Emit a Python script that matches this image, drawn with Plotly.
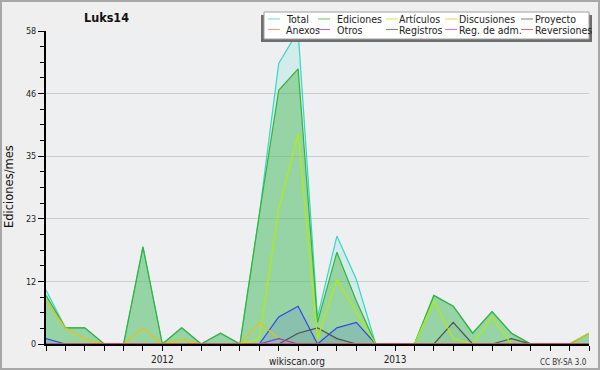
import plotly.graph_objects as go

# ---------------- data ----------------
months = ["2011-07", "2011-08", "2011-09", "2011-10", "2011-11", "2011-12",
          "2012-01", "2012-02", "2012-03", "2012-04", "2012-05", "2012-06",
          "2012-07", "2012-08", "2012-09", "2012-10", "2012-11", "2012-12",
          "2013-01", "2013-02", "2013-03", "2013-04", "2013-05", "2013-06",
          "2013-07", "2013-08", "2013-09", "2013-10", "2013-11"]
year_labels = {"2012-01": "2012", "2013-01": "2013"}

total       = [10, 3, 3, 0, 0, 18, 0, 3, 0, 2, 0, 24, 52, 58, 5, 20, 12, 0, 0, 0, 9, 7, 2, 6, 2, 0, 0, 0, 2]
ediciones   = [9, 3, 3, 0, 0, 18, 0, 3, 0, 2, 0, 24, 47, 51, 4, 17, 8, 0, 0, 0, 9, 7, 2, 6, 2, 0, 0, 0, 2]
articulos   = [0, 0, 0, 0, 0, 0, 0, 0, 0, 0, 0, 1, 25, 39, 1, 12, 6, 0, 0, 0, 8, 1, 0, 5, 0, 0, 0, 0, 0]
discusiones = [8, 3, 1, 0, 0, 3, 0, 1, 0, 0, 0, 4, 1, 0, 0, 0, 0, 0, 0, 0, 0, 0, 0, 0, 0, 0, 0, 0, 2]
proyecto    = [0, 0, 0, 0, 0, 0, 0, 0, 0, 0, 0, 0, 0, 2, 3, 1, 0, 0, 0, 0, 0, 4, 0, 0, 1, 0, 0, 0, 0]
anexos      = [0] * 29
otros       = [0, 0, 0, 0, 0, 0, 0, 0, 0, 0, 0, 0, 1, 0, 0, 0, 0, 0, 0, 0, 0, 0, 0, 0, 0, 0, 0, 0, 0]
registros   = [1, 0, 0, 0, 0, 0, 0, 0, 0, 0, 0, 0, 5, 7, 0, 3, 4, 0, 0, 0, 0, 0, 0, 0, 0, 0, 0, 0, 0]
reg_adm     = [0] * 29
reversiones = [0] * 29

y_tickvals = [0, 11.6, 23.2, 34.8, 46.4, 58]
y_ticktext = ["0", "12", "23", "35", "46", "58"]

# legend layout: names by row (5 columns x 2 rows)
legend_names = ["Total", "Ediciones", "Artículos", "Discusiones", "Proyecto",
                "Anexos", "Otros", "Registros", "Reg. de adm.", "Reversiones"]

# ---------------- styles ----------------
C = {
    "Total": "#36d6c8", "Ediciones": "#34b534", "Artículos": "#b4ee00",
    "Discusiones": "#e8c400", "Proyecto": "#505050", "Anexos": "#ff7f40",
    "Otros": "#8a35dd", "Registros": "#3246ee", "Reg. de adm.": "#cc44dd",
    "Reversiones": "#e83333",
}
FILL = {
    "Total": "rgba(54,214,200,0.15)",
    "Ediciones": "rgba(70,180,70,0.42)",
    "Registros": "rgba(40,60,240,0.12)",
    "Proyecto": "rgba(60,60,60,0.05)",
}
series = [("Total", total), ("Ediciones", ediciones), ("Registros", registros),
          ("Proyecto", proyecto), ("Artículos", articulos), ("Discusiones", discusiones),
          ("Otros", otros), ("Anexos", anexos), ("Reg. de adm.", reg_adm),
          ("Reversiones", reversiones)]

W, H = 600, 370
L, R, T, B = 46, 11, 31, 26
PW, PH = W - L - R, H - T - B


def px(x):
    return (x - L) / PW


def py(y):
    return (H - B - y) / PH


FONT = "DejaVu Sans"
FONT_C = "DejaVu Sans Condensed, DejaVu Sans"

fig = go.Figure()
for name, vals in series:
    fig.add_trace(go.Scatter(
        x=months, y=vals, name=name, mode="lines",
        line=dict(color=C[name], width=1.2),
        fill="tozeroy" if name in FILL else None,
        fillcolor=FILL.get(name),
        hoverinfo="skip",
    ))

shapes = []
annotations = []

# outer border
shapes.append(dict(type="rect", xref="paper", yref="paper",
                   x0=px(1), x1=px(W - 1), y0=py(1), y1=py(H - 1),
                   line=dict(color="#a8a8a8", width=2), layer="above"))

# legend box with shadow
shapes.append(dict(type="rect", xref="paper", yref="paper",
                   x0=px(261), x1=px(592), y0=py(15), y1=py(42),
                   fillcolor="#6e6e6e", line=dict(width=0), layer="above"))
shapes.append(dict(type="rect", xref="paper", yref="paper",
                   x0=px(264), x1=px(589), y0=py(12), y1=py(39),
                   fillcolor="#ffffff", line=dict(color="#a0a0a0", width=1), layer="above"))
col_text_x = [284, 335, 397, 457, 533]
col_line_x = [268, 318, 386, 445, 521]
row_y = [19, 29.5]
for i, name in enumerate(legend_names):
    r, c = divmod(i, 5)
    shapes.append(dict(type="line", xref="paper", yref="paper",
                       x0=px(col_line_x[c]), x1=px(col_line_x[c] + 12),
                       y0=py(row_y[r]), y1=py(row_y[r]),
                       line=dict(color=C[name], width=1), layer="above", opacity=0.75))
    annotations.append(dict(xref="paper", yref="paper", x=px(col_text_x[c]), y=py(row_y[r]),
                            text=name, showarrow=False, xanchor="left", yanchor="middle",
                            font=dict(family=FONT_C, size=10.5, color="#222")))

# title and footers
annotations.append(dict(xref="paper", yref="paper", x=px(106), y=py(17), text="<b>Luks14</b>",
                        showarrow=False, xanchor="center", yanchor="middle",
                        font=dict(family=FONT_C, size=12.5, color="#111")))
annotations.append(dict(xref="paper", yref="paper", x=px(9), y=py(187), text="Ediciones/mes",
                        textangle=-90, showarrow=False, xanchor="center", yanchor="middle",
                        font=dict(family=FONT, size=11.5, color="#111")))
annotations.append(dict(xref="paper", yref="paper", x=px(297), y=py(361), text="wikiscan.org",
                        showarrow=False, xanchor="center", yanchor="middle",
                        font=dict(family=FONT_C, size=10, color="#222")))
annotations.append(dict(xref="paper", yref="paper", x=px(589), y=py(362), text="CC BY-SA 3.0",
                        showarrow=False, xanchor="right", yanchor="middle",
                        font=dict(family=FONT_C, size=8, color="#333")))

fig.update_layout(
    template="none",
    width=W, height=H,
    margin=dict(l=L, r=R, t=T, b=B, pad=0, autoexpand=False),
    paper_bgcolor="#efefef", plot_bgcolor="#eeeff1",
    showlegend=False,
    font=dict(family=FONT_C, size=9, color="#222"),
    shapes=shapes, annotations=annotations,
    xaxis=dict(type="category", range=[0, len(months) - 1], automargin=False,
               tickmode="array", tickvals=months,
               ticktext=[year_labels.get(m, "") for m in months],
               ticks="outside", ticklen=5, tickcolor="black", tickwidth=1,
               showline=True, linecolor="black", linewidth=2,
               showgrid=False, zeroline=False,
               tickfont=dict(family=FONT_C, size=10, color="#222")),
    yaxis=dict(range=[0, 58], automargin=False,
               tickmode="array", tickvals=y_tickvals, ticktext=y_ticktext,
               ticks="outside", ticklen=6, tickcolor="black", tickwidth=1,
               showline=True, linecolor="black", linewidth=2,
               showgrid=True, gridcolor="#cccccc", gridwidth=1, zeroline=False,
               tickfont=dict(family=FONT_C, size=9, color="#222"),
               minor=dict(tickmode="linear", tick0=0, dtick=2.9, ticks="outside",
                          ticklen=4, tickcolor="black", showgrid=False)),
)

fig.write_html("out.html", config={"displayModeBar": False},
               post_script="document.body.style.margin='0px';document.body.style.overflow='hidden';")
